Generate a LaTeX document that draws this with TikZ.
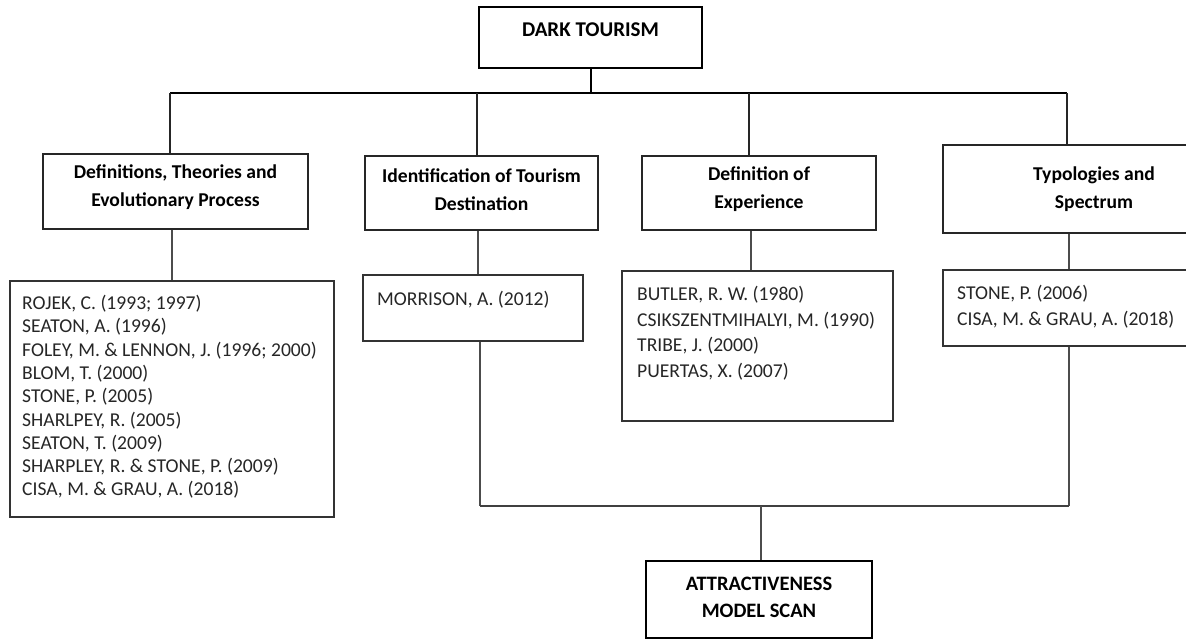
\documentclass[tikz,border=0pt]{standalone}
\usepackage{fontspec}
\setmainfont{Carlito}
\begin{document}
\begin{tikzpicture}[x=1pt,y=-1pt,
  mainbox/.style={draw=black, line width=2.4pt, inner sep=0pt},
  catbox/.style={draw=black!85, line width=1.3pt, inner sep=0pt},
  refbox/.style={draw=black!80, line width=1.3pt, inner sep=0pt},
  maintext/.style={inner sep=0pt, align=center, font=\bfseries\fontsize{20.5}{27}\selectfont},
  cattext/.style={inner sep=0pt, align=center, font=\bfseries\fontsize{19.6}{28}\selectfont},
  reftext/.style={anchor=north west, inner sep=0pt, align=left, text=black!85},
  busline/.style={draw=black, line width=2pt},
  stem/.style={draw=black!85, line width=1.2pt},
  link/.style={draw=black!70, line width=1.1pt},
  lowbus/.style={draw=black!75, line width=1.5pt}]
\useasboundingbox (0,0) rectangle (1186,638);
\clip (0,0) rectangle (1186,638);

% top node
\node[mainbox, minimum width=223pt, minimum height=61pt] (dark) at (590.5,37.5) {};
\node[maintext, font=\bfseries\fontsize{21}{27}\selectfont] (darkt) at ([yshift=7.5pt]dark.center) {DARK TOURISM};

% category boxes
\node[catbox, minimum width=265pt, minimum height=75pt] (b1) at (175.5,191.5) {};
\node[cattext] (b1t) at ([yshift=4pt]b1.center) {Definitions, Theories and\\Evolutionary Process};
\node[catbox, minimum width=233pt, minimum height=74pt] (b2) at (481.5,193) {};
\node[cattext] (b2t) at ([yshift=3.5pt]b2.center) {Identification of Tourism\\Destination};
\node[catbox, minimum width=234pt, minimum height=74pt] (b3) at (759,193) {};
\node[cattext] (b3t) at ([yshift=3.5pt]b3.center) {Definition of\\Experience};
\node[catbox, minimum width=302pt, minimum height=88pt] (b4) at (1094,189) {};
\node[cattext] (b4t) at ([yshift=0pt]b4.center) {Typologies and\\Spectrum};

% reference boxes
\node[refbox, minimum width=324pt, minimum height=236pt] (r1) at (172,399) {};
\node[reftext, font=\fontsize{19.6}{23.3}\selectfont] (r1t) at (22,295) {ROJEK, C. (1993; 1997)\\SEATON, A. (1996)\\FOLEY, M. \& LENNON, J. (1996; 2000)\\BLOM, T. (2000)\\STONE, P. (2005)\\SHARLPEY, R. (2005)\\SEATON, T. (2009)\\SHARPLEY, R. \& STONE, P. (2009)\\CISA, M. \& GRAU, A. (2018)};
\node[refbox, minimum width=220pt, minimum height=66pt] (r2) at (473,308) {};
\node[reftext, font=\fontsize{19.6}{23.3}\selectfont] (r2t) at (377,291) {MORRISON, A. (2012)};
\node[refbox, minimum width=271pt, minimum height=150pt] (r3) at (757.5,346) {};
\node[reftext, font=\fontsize{19.6}{25.7}\selectfont] (r3t) at (637,286) {BUTLER, R. W. (1980)\\CSIKSZENTMIHALYI, M. (1990)\\TRIBE, J. (2000)\\PUERTAS, X. (2007)};
\node[refbox, minimum width=302pt, minimum height=76pt] (r4) at (1094,308) {};
\node[reftext, font=\fontsize{19.6}{26}\selectfont] (r4t) at (957,285) {STONE, P. (2006)\\CISA, M. \& GRAU, A. (2018)};

% final node
\node[mainbox, minimum width=226pt, minimum height=77pt] (scan) at (759,599.5) {};
\node[maintext] (scant) at (759,597.5) {ATTRACTIVENESS\\MODEL SCAN};

% upper branching
\coordinate (bus) at (590.5,93);
\coordinate (j1) at (170,93);
\coordinate (j2) at (477,93);
\coordinate (j3) at (749,93);
\coordinate (j4) at (1067,93);
\draw[busline] (dark.south) -- (bus);
\draw[busline] (j1) -- (j4);
\draw[stem] (j1) -- (j1 |- b1.north);
\draw[stem] (j2) -- (j2 |- b2.north);
\draw[stem] (j3) -- (j3 |- b3.north);
\draw[stem] (j4) -- (j4 |- b4.north);

% category to references
\draw[link] ([xshift=-3.5pt]b1.south) -- ([xshift=-3.5pt]b1.south |- r1.north);
\draw[link] ([xshift=-3.5pt]b2.south) -- ([xshift=-3.5pt]b2.south |- r2.north);
\draw[link] ([xshift=-8pt]b3.south) -- ([xshift=-8pt]b3.south |- r3.north);
\draw[link] ([xshift=-25pt]b4.south) -- ([xshift=-25pt]b4.south |- r4.north);

% lower merging
\coordinate (m1) at (480,506);
\coordinate (m2) at (1069,506);
\coordinate (m0) at (761,506);
\draw[link] ([xshift=7pt]r2.south) -- (m1);
\draw[link] ([xshift=-25pt]r4.south) -- (m2);
\draw[lowbus] (m1) -- (m2);
\draw[link] (m0) -- (m0 |- scan.north);
\end{tikzpicture}
\end{document}
